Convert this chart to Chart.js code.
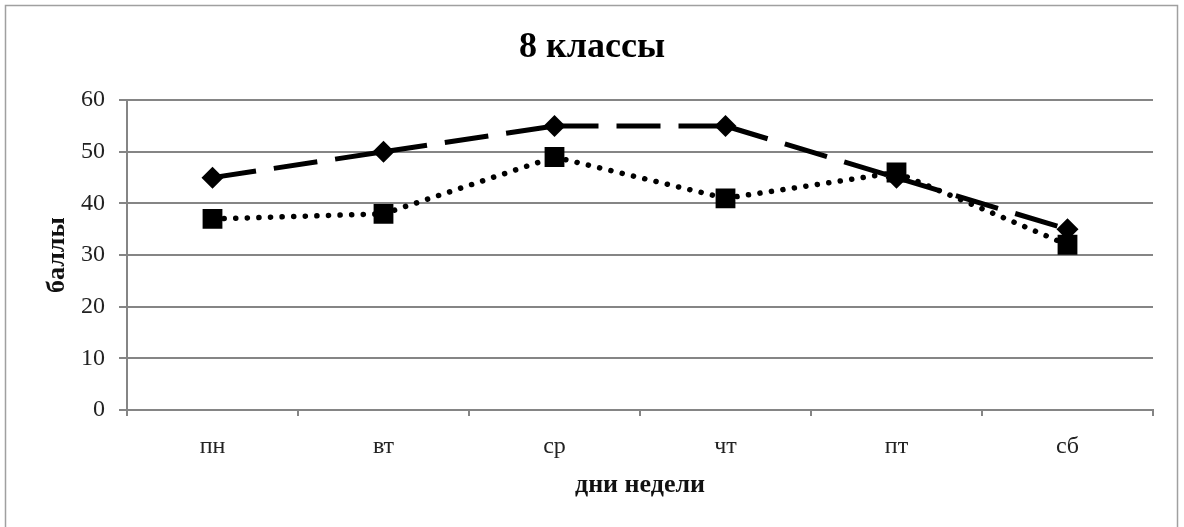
<!DOCTYPE html>
<html>
<head>
<meta charset="utf-8">
<script src="https://cdn.jsdelivr.net/npm/chart.js@4"></script>
<style>
  html, body { margin: 0; padding: 0; background: #fff; }
  #wrap { width: 1184px; height: 527px; position: relative; }
</style>
</head>
<body>
<div id="wrap"><canvas id="c" width="1184" height="527"></canvas></div>
<script>
const chartTitle = '8 классы';
const xTitle = 'дни недели';
const yTitle = 'баллы';
const days = ['пн', 'вт', 'ср', 'чт', 'пт', 'сб'];
const seriesDashed = [45, 50, 55, 55, 45, 35];
const seriesDotted = [37, 38, 49, 41, 46, 32];
const yTicks = [0, 10, 20, 30, 40, 50, 60];

const FONT = "'Liberation Serif', 'Times New Roman', serif";
const GRID = '#858585';

const frame = {
  id: 'frame',
  beforeDraw(chart) {
    const ctx = chart.ctx;
    ctx.save();
    ctx.fillStyle = '#fff';
    ctx.fillRect(0, 0, chart.width, chart.height);
    ctx.strokeStyle = '#a0a0a0';
    ctx.lineWidth = 1.5;
    ctx.strokeRect(5.5, 5.5, 1172, 560);
    ctx.restore();
  }
};

// restart the dash pattern at every point (as the original does)
const restartDash = c => (c.p0DataIndex % 2 ? 0.001 : 0);

new Chart(document.getElementById('c'), {
  type: 'line',
  data: {
    labels: days,
    datasets: [
      {
        label: 'ряд 2',
        data: seriesDotted,
        borderColor: '#000',
        backgroundColor: '#000',
        borderWidth: 5.5,
        borderDash: [0.1, 11.5],
        borderCapStyle: 'round',
        pointStyle: 'rect',
        pointRadius: 14,
        pointBorderWidth: 0,
        tension: 0,
        fill: false,
        segment: { borderDashOffset: restartDash }
      },
      {
        label: 'ряд 1',
        data: seriesDashed,
        borderColor: '#000',
        backgroundColor: '#000',
        borderWidth: 5,
        borderDash: [44, 18],
        borderCapStyle: 'butt',
        pointStyle: 'rectRot',
        pointRadius: 11,
        pointBorderWidth: 0,
        tension: 0,
        fill: false,
        segment: { borderDashOffset: restartDash }
      }
    ]
  },
  options: {
    responsive: false,
    animation: false,
    devicePixelRatio: 1,
    layout: { padding: { left: 31, right: 31, top: 0, bottom: 0 } },
    plugins: {
      legend: { display: false },
      tooltip: { enabled: false },
      title: {
        display: true,
        text: chartTitle,
        color: '#000',
        font: { family: FONT, size: 36, weight: 'bold', lineHeight: 1.2 },
        padding: { top: 26, bottom: 31 }
      }
    },
    scales: {
      x: {
        type: 'category',
        offset: true,
        afterFit(scale) { scale.height = 117; },
        grid: {
          display: true,
          drawOnChartArea: false,
          drawTicks: true,
          tickLength: 6,
          offset: true,
          color: GRID,
          lineWidth: 2
        },
        border: { display: true, color: GRID, width: 2 },
        ticks: {
          color: '#222',
          padding: 16,
          font: { family: FONT, size: 24 }
        },
        title: {
          display: true,
          text: xTitle,
          color: '#111',
          font: { family: FONT, size: 26, weight: 'bold', lineHeight: 1.2 },
          padding: { top: 0, bottom: 26 }
        }
      },
      y: {
        min: 0,
        max: 60,
        afterFit(scale) { scale.width = 96; },
        afterBuildTicks(scale) { scale.ticks = yTicks.map(v => ({ value: v })); },
        grid: {
          color: GRID,
          lineWidth: 2,
          drawTicks: true,
          tickLength: 8
        },
        border: { display: true, color: GRID, width: 2 },
        ticks: {
          color: '#222',
          padding: 14,
          font: { family: FONT, size: 24 }
        },
        title: {
          display: true,
          text: yTitle,
          color: '#111',
          font: { family: FONT, size: 26, weight: 'bold', lineHeight: 1.2 },
          padding: { top: 11, bottom: 0 }
        }
      }
    }
  },
  plugins: [frame]
});
</script>
</body>
</html>
